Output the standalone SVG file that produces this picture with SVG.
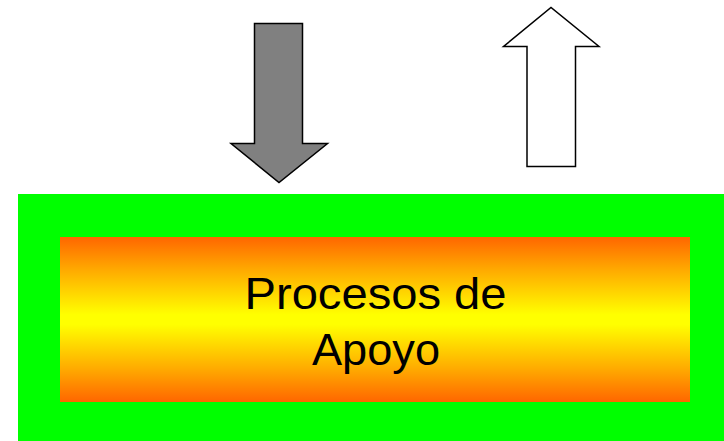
<svg xmlns="http://www.w3.org/2000/svg" width="724" height="441" viewBox="0 0 724 441">
<defs>
<linearGradient id="g" x1="0" y1="0" x2="0" y2="1">
<stop offset="0" stop-color="#FF6600"/>
<stop offset="0.2" stop-color="#FFAA00"/>
<stop offset="0.47" stop-color="#FFFF00"/>
<stop offset="0.53" stop-color="#FFFF00"/>
<stop offset="0.8" stop-color="#FFAA00"/>
<stop offset="1" stop-color="#FF6600"/>
</linearGradient>
<style>
.arr{stroke:#000;stroke-width:1.5;stroke-linejoin:miter}
.t{font-family:"Liberation Sans",Arial,sans-serif;font-size:44.5px;fill:#000;text-anchor:middle}
</style>
</defs>
<rect width="724" height="441" fill="#fff"/>
<g id="box">
<rect x="18" y="194" width="706" height="247" fill="#00FF00"/>
<rect x="60" y="237" width="630" height="165" fill="url(#g)"/>
<text class="t" x="375.5" y="309" textLength="262" lengthAdjust="spacingAndGlyphs">Procesos de</text>
<text class="t" x="376" y="365" textLength="128" lengthAdjust="spacingAndGlyphs">Apoyo</text>
</g>
<g id="connectors">
<polygon id="down" class="arr" fill="#808080" points="254.5,23.5 302.5,23.5 302.5,143.5 327.5,143.5 279,182.5 231,143.5 254.5,143.5"/>
<polygon id="up" class="arr" fill="#fff" points="527,166.5 575.5,166.5 575.5,46.5 599,46.5 551,7.5 503.5,46.5 527,46.5"/>
</g>
</svg>
